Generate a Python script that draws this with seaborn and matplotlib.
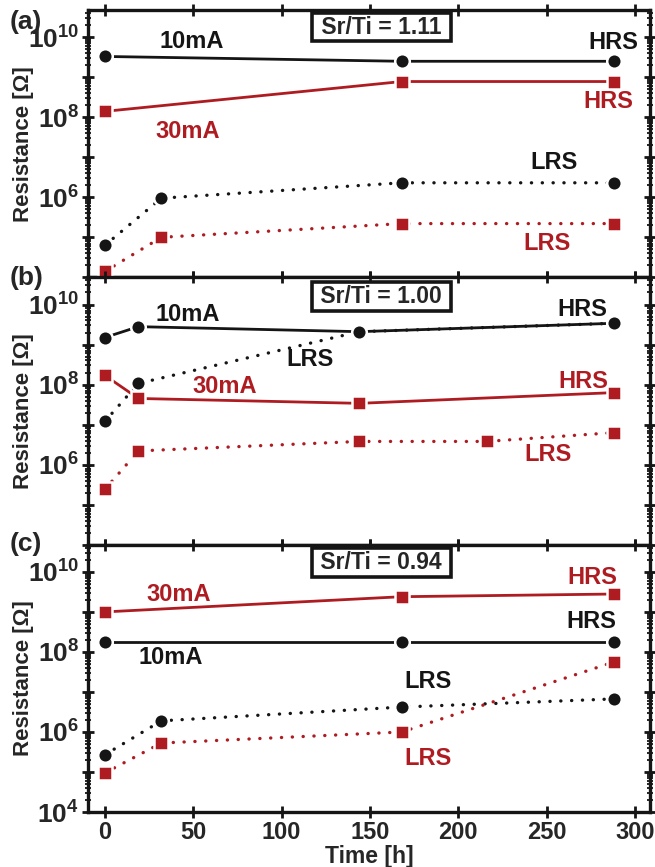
import numpy as np
import matplotlib
matplotlib.use("Agg")
import matplotlib.pyplot as plt
import matplotlib.ticker as mticker
import seaborn as sns

# ---------- data (time in h, resistance in Ohm) ----------
# (a) Sr/Ti = 1.11
a_hrs_t = [0, 168, 288]
a_hrs_10 = [3.3e9, 2.5e9, 2.5e9]
a_hrs_30 = [1.4e8, 7.8e8, 7.8e8]
a_lrs_t = [0, 32, 168, 288]
a_lrs_10 = [6.3e4, 9.5e5, 2.3e6, 2.3e6]
a_lrs_30 = [1.4e4, 1.0e5, 2.2e5, 2.2e5]

# (b) Sr/Ti = 1.00
b_t = [0, 19, 144, 288]
b_hrs_10 = [1.5e9, 2.8e9, 2.1e9, 3.4e9]
b_lrs_10 = [1.2e7, 1.07e8, 2.1e9, 3.4e9]
b_hrs_30 = [1.7e8, 4.5e7, 3.4e7, 6.3e7]
b_lrs30_t = [0, 19, 144, 216, 288]
b_lrs_30 = [2.4e5, 2.2e6, 3.8e6, 3.8e6, 6.3e6]

# (c) Sr/Ti = 0.94
c_hrs_t = [0, 168, 288]
c_hrs_10 = [1.8e8, 1.8e8, 1.8e8]
c_hrs_30 = [1.0e9, 2.4e9, 2.8e9]
c_lrs_t = [0, 32, 168, 288]
c_lrs_10 = [2.7e5, 1.9e6, 4.2e6, 6.7e6]
c_lrs_30 = [9.5e4, 5.3e5, 1.0e6, 5.6e7]

ratios = ["Sr/Ti = 1.11", "Sr/Ti = 1.00", "Sr/Ti = 0.94"]
letters = ["(a)", "(b)", "(c)"]
x_ticks = [0, 50, 100, 150, 200, 250, 300]

BLACK = "#151515"
RED = "#ae1c22"

sns.set_style("ticks")
plt.rcParams["font.family"] = ["Liberation Sans", "DejaVu Sans"]
plt.rcParams["font.weight"] = "bold"
plt.rcParams["mathtext.fontset"] = "custom"
plt.rcParams["mathtext.bf"] = "Liberation Sans:bold"
plt.rcParams["mathtext.rm"] = "Liberation Sans:bold"

fig = plt.figure(figsize=(6.55, 8.67), dpi=100)
axes = fig.subplots(3, 1, sharex=True)
fig.subplots_adjust(left=0.1344, right=0.9924, top=0.9885, bottom=0.0634, hspace=0)


def series(ax, t, v, color, marker, dotted):
    ls = (0, (0.05, 3.2)) if dotted else "-"
    lw = 2.4 if dotted else 2.0
    ms = 10.5 if marker == "o" else 10
    sns.lineplot(x=t, y=v, ax=ax, color=color, marker=marker, markersize=ms,
                 linestyle=ls, linewidth=lw, dash_capstyle="round",
                 mec="white", mew=1.8, sort=False, zorder=3)


series(axes[0], a_hrs_t, a_hrs_10, BLACK, "o", False)
series(axes[0], a_hrs_t, a_hrs_30, RED, "s", False)
series(axes[0], a_lrs_t, a_lrs_10, BLACK, "o", True)
series(axes[0], a_lrs_t, a_lrs_30, RED, "s", True)

series(axes[1], b_t, b_lrs_10, BLACK, "o", True)
series(axes[1], b_t, b_hrs_10, BLACK, "o", False)
series(axes[1], b_t, b_hrs_30, RED, "s", False)
series(axes[1], b_lrs30_t, b_lrs_30, RED, "s", True)

series(axes[2], c_hrs_t, c_hrs_30, RED, "s", False)
series(axes[2], c_hrs_t, c_hrs_10, BLACK, "o", False)
series(axes[2], c_lrs_t, c_lrs_10, BLACK, "o", True)
series(axes[2], c_lrs_t, c_lrs_30, RED, "s", True)

# annotations: (t, log10 R, text, colour)
notes = [
    [(49, 9.9, "10mA", BLACK), (47, 7.65, "30mA", RED),
     (288, 9.87, "HRS", BLACK), (285, 8.4, "HRS", RED),
     (254, 6.87, "LRS", BLACK), (250, 4.85, "LRS", RED)],
    [(47, 9.75, "10mA", BLACK), (116, 8.63, "LRS", BLACK),
     (68, 7.95, "30mA", RED), (270, 9.87, "HRS", BLACK),
     (271, 8.08, "HRS", RED), (251, 6.25, "LRS", RED)],
    [(42, 9.43, "30mA", RED), (37, 7.85, "10mA", BLACK),
     (276, 9.85, "HRS", RED), (275, 8.75, "HRS", BLACK),
     (183, 7.25, "LRS", BLACK), (183, 5.33, "LRS", RED)],
]
box_y = [10.25, 10.2, 10.24]
letter_y = [0.975, 0.679, 0.373]


def ylab(skip4):
    def f(v, pos):
        n = int(round(np.log10(v)))
        if n % 2 or (skip4 and n == 4):
            return ""
        return r"$\mathbf{10^{%d}}$" % n
    return f


for i, ax in enumerate(axes):
    ax.set_yscale("log")
    ax.set_ylim(1e4, 10 ** 10.68)
    ax.set_xlim(-9.5, 308.5)
    ax.yaxis.set_major_locator(mticker.FixedLocator([10.0 ** k for k in range(4, 11)]))
    ax.yaxis.set_minor_locator(mticker.LogLocator(base=10, subs=np.arange(2, 10), numticks=20))
    ax.yaxis.set_major_formatter(mticker.FuncFormatter(ylab(i < 2)))
    ax.yaxis.set_minor_formatter(mticker.NullFormatter())
    ax.set_xticks(x_ticks)
    for s in ax.spines.values():
        s.set_visible(True)
        s.set_linewidth(2.4)
        s.set_color(BLACK)
    ax.tick_params(which="major", direction="inout", length=9, width=2,
                   top=True, right=True, color=BLACK, pad=2)
    ax.tick_params(which="minor", direction="inout", length=4.5, width=1.3,
                   right=True, left=True, color=BLACK)
    ax.tick_params(axis="y", labelsize=19)
    ax.tick_params(axis="x", labelsize=17)
    ax.set_ylabel("Resistance [Ω]", fontsize=16, fontweight="bold")
    ax.yaxis.set_label_coords(-0.097, 0.5)
    for t, ly, txt, col in notes[i]:
        ax.text(t, 10 ** ly, txt, color=col, fontsize=17, fontweight="bold",
                ha="center", va="center", zorder=5)
    ax.text(156.5, 10 ** box_y[i], " " + ratios[i] + " ", fontsize=16.5,
            fontweight="bold", ha="center", va="center", zorder=6,
            bbox=dict(boxstyle="square,pad=0.12", fc="white", ec=BLACK, lw=2.6))
    fig.text(0.014, letter_y[i], letters[i], fontsize=19, fontweight="bold",
             ha="left", va="center")

axes[2].set_xlabel("Time [h]", fontsize=16.5, fontweight="bold", labelpad=1)

fig.savefig("out.png", dpi=100)
